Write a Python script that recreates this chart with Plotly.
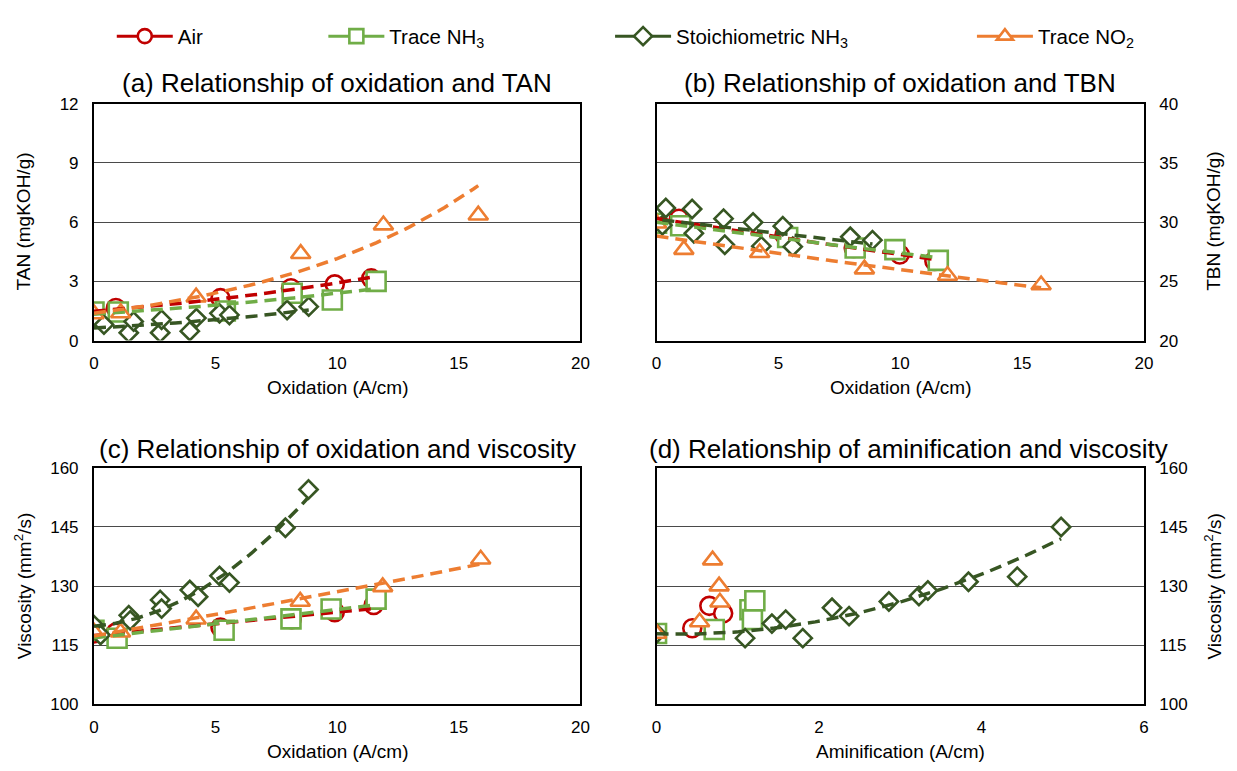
import numpy as np
import plotly.graph_objects as go

# ---------------- data ----------------
series_names = ["Air", "Trace NH<sub>3</sub>", "Stoichiometric NH<sub>3</sub>", "Trace NO<sub>2</sub>"]

# (a) TAN vs oxidation
a_air_x = [0, 0.9, 5.2, 8.1, 9.9, 11.4]
a_air_y = [1.40, 1.65, 2.15, 2.65, 2.85, 3.15]
a_nh3_x = [0, 1.0, 5.4, 8.15, 9.8, 11.6]
a_nh3_y = [1.45, 1.45, 1.50, 2.40, 2.06, 3.00]
a_sto_x = [0, 0.41, 1.43, 1.63, 2.72, 2.78, 3.94, 4.21, 5.16, 5.57, 7.94, 8.83]
a_sto_y = [1.14, 0.81, 0.40, 0.97, 0.40, 1.06, 0.48, 1.14, 1.38, 1.30, 1.55, 1.72]
a_no2_x = [0, 1.1, 4.2, 8.5, 11.9, 15.8]
a_no2_y = [1.35, 1.40, 2.20, 4.40, 5.85, 6.35]

# (b) TBN vs oxidation
b_air_x = [0, 0.92, 5.25, 8.09, 9.98, 11.4]
b_air_y = [29.9, 30.29, 28.91, 27.82, 27.27, 26.72]
b_nh3_x = [0, 0.99, 5.38, 8.15, 9.78, 11.56]
b_nh3_y = [29.9, 29.69, 28.70, 27.82, 27.68, 26.77]
b_sto_x = [0.24, 0.38, 1.46, 1.53, 2.75, 2.80, 3.96, 4.30, 5.18, 5.59, 7.95, 8.86]
b_sto_y = [29.74, 31.19, 31.11, 29.05, 30.29, 28.09, 29.98, 27.97, 29.66, 27.93, 28.76, 28.48]
b_no2_x = [0, 1.12, 4.23, 8.53, 11.94, 15.78]
b_no2_y = [29.9, 27.68, 27.41, 26.03, 25.49, 24.69]

# (c) viscosity vs oxidation
c_air_x = [0, 0.9, 5.2, 8.13, 9.9, 11.5]
c_air_y = [118.0, 118.2, 119.5, 121.6, 123.4, 125.2]
c_nh3_x = [0, 0.95, 5.35, 8.1, 9.75, 11.6]
c_nh3_y = [118.8, 116.8, 118.8, 121.7, 124.2, 126.7]
c_sto_x = [0, 0.27, 1.43, 1.49, 2.72, 2.78, 3.94, 4.28, 5.16, 5.57, 7.87, 8.82]
c_sto_y = [120.1, 117.6, 122.6, 121.3, 126.5, 124.3, 129.0, 127.3, 132.6, 130.9, 144.8, 154.5]
c_no2_x = [0, 1.09, 4.2, 8.48, 11.87, 15.9]
c_no2_y = [118.3, 118.3, 121.6, 126.1, 129.8, 136.8]

# (d) viscosity vs aminification
d_air_x = [0, 0.44, 0.65, 0.82]
d_air_y = [118.0, 119.3, 125.0, 123.1]
d_nh3_x = [0, 0.71, 1.15, 1.18, 1.21]
d_nh3_y = [118.0, 119.0, 124.0, 121.5, 126.3]
d_sto_x = [0, 1.09, 1.42, 1.59, 1.80, 2.16, 2.37, 2.86, 3.23, 3.34, 3.84, 4.44, 4.98]
d_sto_y = [118.0, 116.8, 120.5, 121.5, 116.8, 124.5, 122.4, 126.1, 127.5, 128.9, 131.1, 132.4, 145.0]
d_no2_x = [0, 0.53, 0.69, 0.77, 0.78]
d_no2_y = [118.0, 120.9, 136.6, 130.0, 125.9]

panel_titles = ["(a) Relationship of oxidation and TAN",
                "(b) Relationship of oxidation and TBN",
                "(c) Relationship of oxidation and viscosity",
                "(d) Relationship of aminification and viscosity"]

# trendline kind per panel / series (None = no trendline)
a_trends = ["exp", "exp", "exp", "exp"]
b_trends = ["exp", "exp", "exp", "exp"]
c_trends = ["exp", "exp", "poly2", "exp"]
d_trends = [None, None, "poly2", None]

# ---------------- styles ----------------
colors = ["#C00000", "#70AD47", "#375623", "#ED7D31"]
symbols = ["circle", "square", "diamond", "triangle-up"]
msizes = [18, 19, 14, 17]
FONT = "Liberation Sans, Arial, sans-serif"

fig = go.Figure()

panels = [
    ("x", "y", [(a_air_x, a_air_y), (a_nh3_x, a_nh3_y), (a_sto_x, a_sto_y), (a_no2_x, a_no2_y)], a_trends),
    ("x2", "y2", [(b_air_x, b_air_y), (b_nh3_x, b_nh3_y), (b_sto_x, b_sto_y), (b_no2_x, b_no2_y)], b_trends),
    ("x3", "y3", [(c_air_x, c_air_y), (c_nh3_x, c_nh3_y), (c_sto_x, c_sto_y), (c_no2_x, c_no2_y)], c_trends),
    ("x4", "y4", [(d_air_x, d_air_y), (d_nh3_x, d_nh3_y), (d_sto_x, d_sto_y), (d_no2_x, d_no2_y)], d_trends),
]


def trend(x, y, kind):
    x = np.asarray(x, float)
    y = np.asarray(y, float)
    xs = np.linspace(x.min(), x.max(), 80)
    if kind == "exp":
        b, lna = np.polyfit(x, np.log(y), 1)
        return xs, np.exp(lna) * np.exp(b * xs)
    coef = np.polyfit(x, y, 2)
    return xs, np.polyval(coef, xs)


for xa, ya, data, trends in panels:
    for i, (xv, yv) in enumerate(data):
        fig.add_trace(go.Scatter(
            x=xv, y=yv, xaxis=xa, yaxis=ya, mode="markers", showlegend=False,
            marker=dict(symbol=symbols[i], size=msizes[i], color="white",
                        line=dict(color=colors[i], width=2.6)),
            hoverinfo="skip"))
    for i, (xv, yv) in enumerate(data):
        if trends[i]:
            tx, ty = trend(xv, yv, trends[i])
            fig.add_trace(go.Scatter(
                x=tx, y=ty, xaxis=xa, yaxis=ya, mode="lines", showlegend=False,
                line=dict(color=colors[i], width=3.5, dash="12px,7px"),
                hoverinfo="skip"))

# legend entries (one legend per entry so they can be spaced like the original)
legend_x = [108, 322, 612, 978]
for i in range(4):
    lname = "legend" if i == 0 else "legend%d" % (i + 1)
    fig.add_trace(go.Scatter(
        x=[None], y=[None], mode="lines+markers", name=series_names[i],
        legend=lname, showlegend=True,
        line=dict(color=colors[i], width=3),
        marker=dict(symbol=symbols[i], size=14, color="white",
                    line=dict(color=colors[i], width=2.6))))

W, H = 1237, 771
LX = (90 / W, 582 / W)
RX = (659 / W, 1152 / W)
TY = (1 - 340 / H, 1 - 97 / H)
BY = (1 - 713 / H, 1 - 470.4 / H)

axis_common = dict(showline=True, mirror=True, linecolor="black", linewidth=2,
                   showgrid=False, zeroline=False, ticks="",
                   tickfont=dict(family=FONT, size=17, color="black"))
yaxis_common = dict(axis_common, showgrid=True, gridcolor="#4a4a4a", gridwidth=1)

layout = dict(
    width=W, height=H, autosize=False,
    margin=dict(l=0, r=0, t=0, b=0),
    paper_bgcolor="white", plot_bgcolor="white",
    font=dict(family=FONT, color="black"),
    xaxis=dict(axis_common, domain=LX, range=[0, 20], tick0=0, dtick=5, anchor="y", ticklabelstandoff=6),
    yaxis=dict(yaxis_common, domain=TY, range=[0, 12], tick0=0, dtick=3, anchor="x", ticklabelstandoff=10),
    xaxis2=dict(axis_common, domain=RX, range=[0, 20], tick0=0, dtick=5, anchor="y2", ticklabelstandoff=6),
    yaxis2=dict(yaxis_common, domain=TY, range=[20, 40], tick0=20, dtick=5, anchor="x2", side="right", ticklabelstandoff=10),
    xaxis3=dict(axis_common, domain=LX, range=[0, 20], tick0=0, dtick=5, anchor="y3", ticklabelstandoff=6),
    yaxis3=dict(yaxis_common, domain=BY, range=[100, 160], tick0=100, dtick=15, anchor="x3", ticklabelstandoff=10),
    xaxis4=dict(axis_common, domain=RX, range=[0, 6], tick0=0, dtick=2, anchor="y4", ticklabelstandoff=6),
    yaxis4=dict(yaxis_common, domain=BY, range=[100, 160], tick0=100, dtick=15, anchor="x4", side="right", ticklabelstandoff=10),
)
for i in range(4):
    lname = "legend" if i == 0 else "legend%d" % (i + 1)
    layout[lname] = dict(x=legend_x[i] / W, y=1 - 28 / H, xanchor="left", yanchor="middle",
                         orientation="h", bgcolor="rgba(0,0,0,0)", borderwidth=0,
                         font=dict(family=FONT, size=20.5, color="black"), itemwidth=56)
fig.update_layout(**layout)

ann = []
title_pos = [((90 + 582) / 2, 76), ((659 + 1152) / 2, 76), ((90 + 582) / 2, 451), ((659 + 1152) / 2 + 8, 451)]
for t, (px, py) in zip(panel_titles, title_pos):
    ann.append(dict(text=t, x=px / W, y=1 - py / H, xref="paper", yref="paper", showarrow=False,
                    xanchor="center", yanchor="middle", font=dict(family=FONT, size=26, color="black")))
axis_titles = [
    ("TAN (mgKOH/g)", 19, 218, -90),
    ("TBN (mgKOH/g)", 1222, 218, -90),
    ("Viscosity (mm<sup>2</sup>/s)", 19, 592, -90),
    ("Viscosity (mm<sup>2</sup>/s)", 1222, 592, -90),
    ("Oxidation (A/cm)", (90 + 582) / 2, 388, 0),
    ("Oxidation (A/cm)", (659 + 1152) / 2, 388, 0),
    ("Oxidation (A/cm)", (90 + 582) / 2, 761, 0),
    ("Aminification (A/cm)", (659 + 1152) / 2, 761, 0),
]
for t, px, py, ang in axis_titles:
    ann.append(dict(text=t, x=px / W, y=1 - py / H, xref="paper", yref="paper", showarrow=False,
                    xanchor="center", yanchor="middle", textangle=ang,
                    font=dict(family=FONT, size=19, color="black")))
fig.update_layout(annotations=ann)

fig.write_html("out.html")
